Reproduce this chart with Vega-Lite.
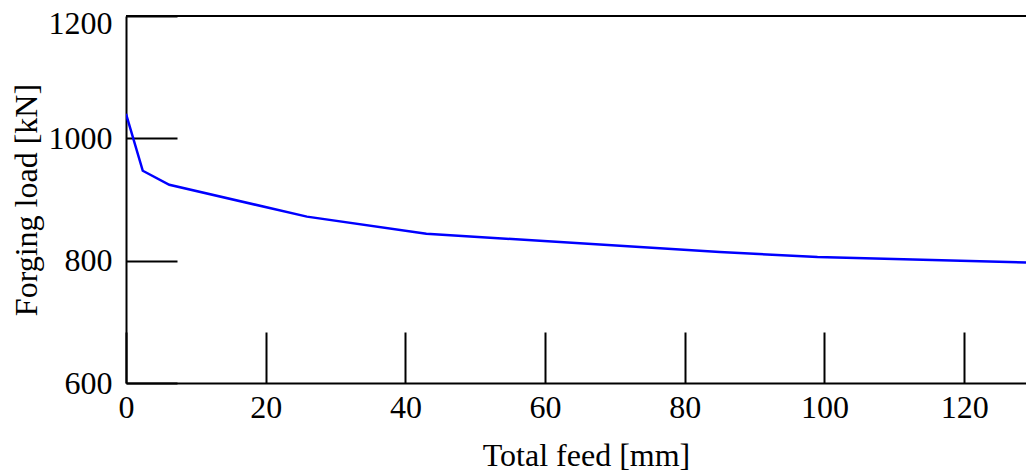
{
  "$schema": "https://vega.github.io/schema/vega-lite/v6.json",
  "width": 900,
  "height": 367,
  "autosize": {"type": "none"},
  "padding": {"left": 126, "top": 16, "right": 0, "bottom": 93},
  "background": "white",
  "config": {
    "view": {"stroke": null},
    "font": "Liberation Serif",
    "axis": {
      "domainColor": "black",
      "domainWidth": 2,
      "tickColor": "black",
      "tickWidth": 2,
      "grid": false,
      "labelFont": "Liberation Serif",
      "labelFontSize": 32,
      "labelColor": "black",
      "titleFont": "Liberation Serif",
      "titleFontSize": 32,
      "titleFontWeight": "normal",
      "titleColor": "black"
    }
  },
  "data": {
    "values": [
      {"feed": 0, "load": 1040},
      {"feed": 2.4, "load": 947},
      {"feed": 6.2, "load": 924},
      {"feed": 25.9, "load": 872},
      {"feed": 43.0, "load": 844},
      {"feed": 85.0, "load": 814},
      {"feed": 99.0, "load": 806},
      {"feed": 128.85, "load": 797}
    ]
  },
  "layer": [
    {
      "mark": {"type": "line", "color": "#0000ff", "strokeWidth": 2.5, "clip": true},
      "encoding": {
        "x": {
          "field": "feed",
          "type": "quantitative",
          "scale": {"domain": [0, 128.85], "nice": false, "zero": false},
          "axis": {
            "values": [0, 20, 40, 60, 80, 100, 120],
            "format": "d",
            "tickSize": -51,
            "labelPadding": 60,
            "labelFlush": false,
            "labelOverlap": false,
            "title": "Total feed [mm]",
            "titleX": 460,
            "titleY": 82,
            "titleBaseline": "alphabetic",
            "titleAnchor": "middle"
          }
        },
        "y": {
          "field": "load",
          "type": "quantitative",
          "scale": {"domain": [600, 1200], "nice": false, "zero": false},
          "axis": {
            "values": [600, 800, 1000, 1200],
            "format": "d",
            "tickSize": -51,
            "labelPadding": 65,
            "labelFlush": false,
            "labelOverlap": false,
            "labelOffset": {"condition": {"test": "datum.value == 1200", "value": 7}, "value": 0},
            "title": "Forging load [kN]",
            "titleAngle": -90,
            "titleX": -90,
            "titleY": 183.5,
            "titleBaseline": "alphabetic",
            "titleAlign": "center"
          }
        }
      }
    },
    {
      "mark": {"type": "rule", "color": "black", "strokeWidth": 2},
      "encoding": {"y": {"datum": 1200}}
    }
  ]
}
